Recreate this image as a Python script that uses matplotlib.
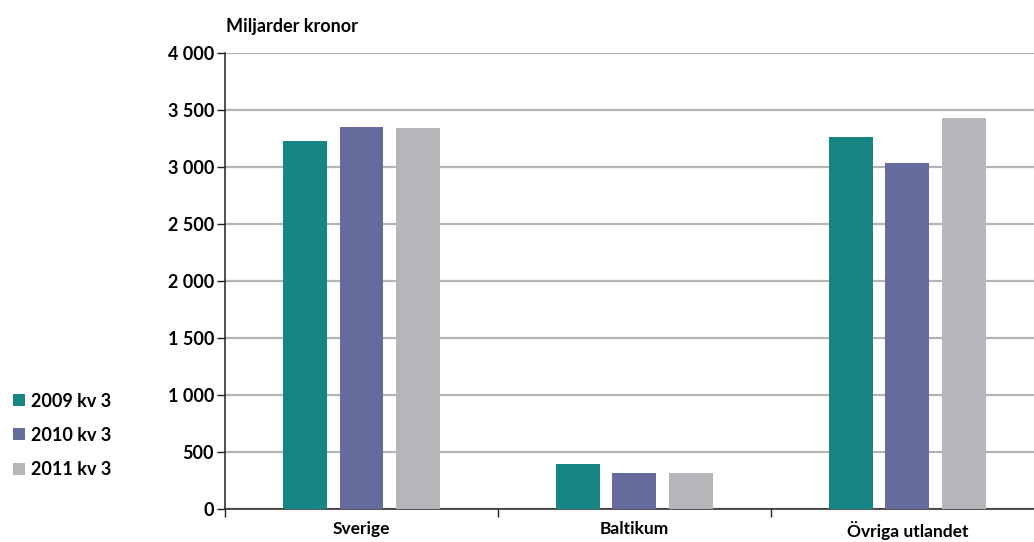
import matplotlib.pyplot as plt
import numpy as np

categories = ["Sverige", "Baltikum", "Övriga utlandet"]
series = ["2009 kv 3", "2010 kv 3", "2011 kv 3"]
values_2009 = [3224, 390, 3259]
values_2010 = [3346, 311, 3031]
values_2011 = [3338, 311, 3425]
colors = ["#178584", "#666b9e", "#b5b6ba"]

yticks = [0, 500, 1000, 1500, 2000, 2500, 3000, 3500, 4000]
ytick_labels = ["0", "500", "1 000", "1 500", "2 000", "2 500", "3 000", "3 500", "4 000"]

plt.rcParams['font.family'] = ['Lato', 'DejaVu Sans']
plt.rcParams['font.weight'] = 'bold'

fig = plt.figure(figsize=(10.34, 5.42), dpi=100)
ax = fig.add_axes([0.2176, 0.0618, 0.792, 0.841])

x = np.arange(len(categories))
width = 0.161
step = 0.207
bars = []
for i, (vals, name) in enumerate(zip([values_2009, values_2010, values_2011], series)):
    b = ax.bar(x + (i - 1) * step, vals, width, color=colors[i], label=name, zorder=3)
    bars.append(b)

ax.set_xlim(-0.5, len(categories) - 0.5)
ax.set_ylim(0, 4000)
ax.set_yticks(yticks)
ax.set_yticklabels(ytick_labels, fontsize=13, fontweight='bold')
ax.yaxis.grid(True, color="#b4b4b4", linewidth=1.6, zorder=0)

# category boundaries get the ticks, names sit between them
ax.set_xticks(np.arange(len(categories)) - 0.5)
ax.set_xticklabels([])
ax.set_xticks(x, minor=True)
ax.set_xticklabels(categories, minor=True, fontsize=12.5, fontweight='bold')
ax.tick_params(axis='x', which='minor', length=0, pad=9)
ax.tick_params(axis='x', which='major', length=6, width=1, color="#222222")
ax.tick_params(axis='y', length=6, width=1, color="#222222", pad=2)

for side in ['top', 'right']:
    ax.spines[side].set_visible(False)
ax.spines['left'].set_color("#222222")
ax.spines['bottom'].set_color("#222222")
ax.spines['left'].set_linewidth(1.1)
ax.spines['bottom'].set_linewidth(1.1)

fig.text(0.2186, 0.952, "Miljarder kronor", fontsize=13, fontweight='bold', va='center', ha='left')

fig.legend(handles=bars, labels=series, loc='center left', bbox_to_anchor=(0.006, 0.197),
           frameon=False, fontsize=13, handlelength=0.65, handleheight=0.65,
           handletextpad=0.3, labelspacing=0.95, borderaxespad=0)

fig.savefig("out.png", dpi=100)
